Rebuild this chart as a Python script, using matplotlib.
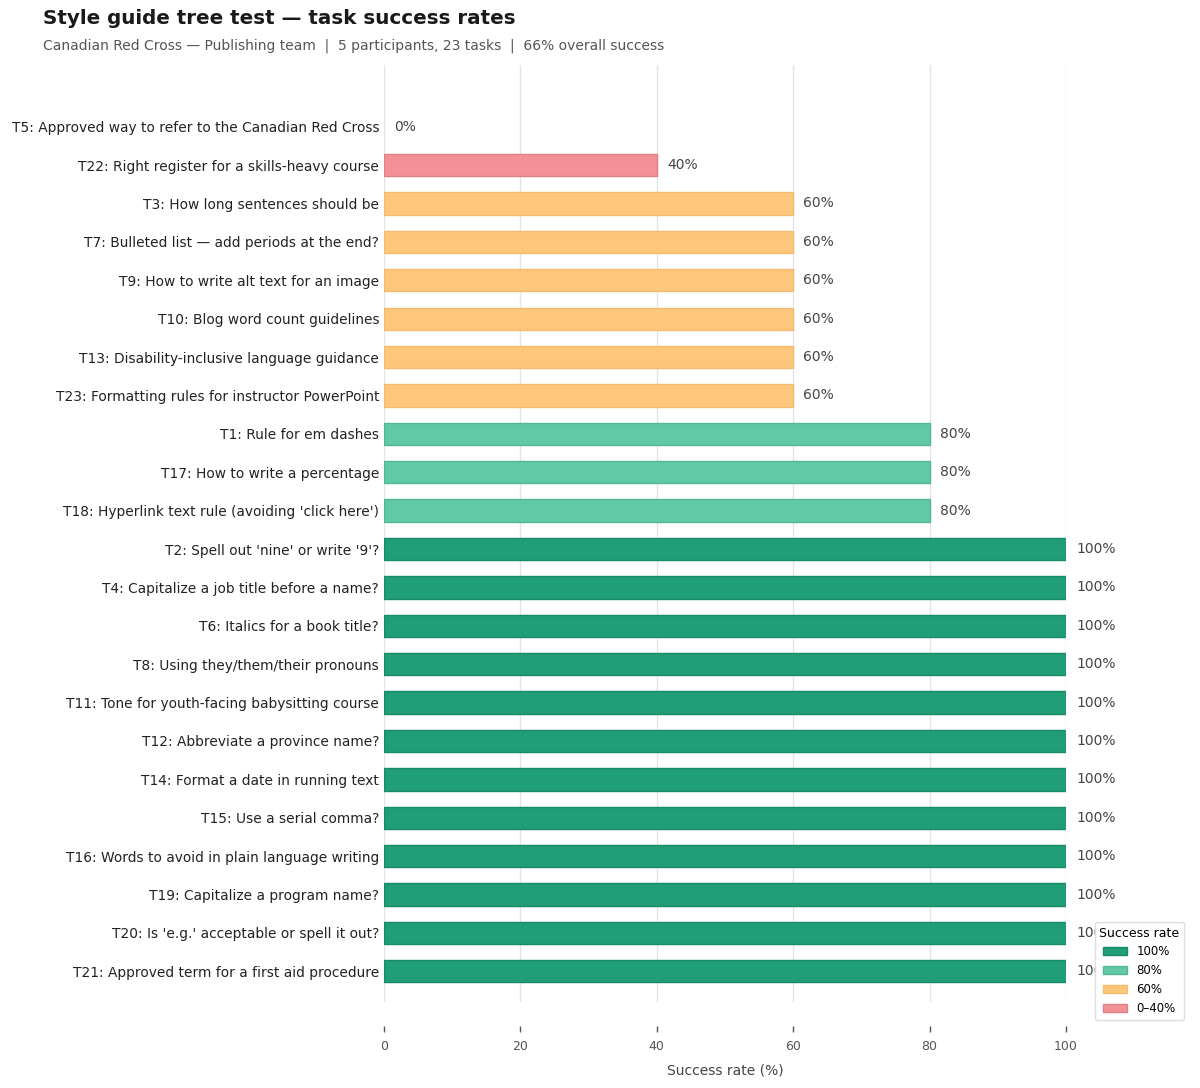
import matplotlib
matplotlib.use('Agg')
import matplotlib.pyplot as plt
from matplotlib.patches import Patch

# Task data (top to bottom as shown)
tasks = [
    "T5: Approved way to refer to the Canadian Red Cross",
    "T22: Right register for a skills-heavy course",
    "T3: How long sentences should be",
    "T7: Bulleted list \u2014 add periods at the end?",
    "T9: How to write alt text for an image",
    "T10: Blog word count guidelines",
    "T13: Disability-inclusive language guidance",
    "T23: Formatting rules for instructor PowerPoint",
    "T1: Rule for em dashes",
    "T17: How to write a percentage",
    "T18: Hyperlink text rule (avoiding 'click here')",
    "T2: Spell out 'nine' or write '9'?",
    "T4: Capitalize a job title before a name?",
    "T6: Italics for a book title?",
    "T8: Using they/them/their pronouns",
    "T11: Tone for youth-facing babysitting course",
    "T12: Abbreviate a province name?",
    "T14: Format a date in running text",
    "T15: Use a serial comma?",
    "T16: Words to avoid in plain language writing",
    "T19: Capitalize a program name?",
    "T20: Is 'e.g.' acceptable or spell it out?",
    "T21: Approved term for a first aid procedure",
]
success = [0, 40, 60, 60, 60, 60, 60, 60, 80, 80, 80,
           100, 100, 100, 100, 100, 100, 100, 100, 100, 100, 100, 100]

legend_labels = ["100%", "80%", "60%", "0\u201340%"]
fill_colors = {"100%": "#1f9e78", "80%": "#62c9a6", "60%": "#fdc77b", "0\u201340%": "#f29296"}
edge_colors = {"100%": "#178a67", "80%": "#52b792", "60%": "#f4bb6c", "0\u201340%": "#e07f84"}


def bucket(v):
    if v >= 100:
        return "100%"
    if v >= 80:
        return "80%"
    if v >= 60:
        return "60%"
    return "0\u201340%"


fig = plt.figure(figsize=(12, 10.88), dpi=100)
ax = fig.add_axes([0.32, 0.079, 0.5683, 0.861])

ypos = list(range(len(tasks)))
cols = [fill_colors[bucket(v)] for v in success]
edges = [edge_colors[bucket(v)] for v in success]
widths = [1 if v > 0 else 0 for v in success]
ax.barh(ypos, success, height=0.58, color=cols, edgecolor=edges, linewidth=widths, zorder=2)

for y, v in zip(ypos, success):
    ax.text(v + 1.5, y, f"{v}%", va='center', ha='left', fontsize=10, color='#444444', zorder=3)

ax.set_yticks(ypos)
ax.set_yticklabels(tasks, fontsize=9.9, color='#222222')
ax.set_ylim(22.8, -1.6)
ax.set_xlim(0, 100)
ax.set_xticks([0, 20, 40, 60, 80, 100])
ax.tick_params(axis='y', length=0, pad=3.5)
ax.tick_params(axis='x', length=4, width=1, colors='#555555', labelsize=9, pad=6)
ax.xaxis.grid(True, color='#e4e4ea', linewidth=1, zorder=0)
ax.set_axisbelow(True)
for s in ['top', 'right', 'left']:
    ax.spines[s].set_visible(False)
ax.spines['bottom'].set_position(('outward', 17))
ax.spines['bottom'].set_visible(False)
ax.set_xlabel("Success rate (%)", fontsize=10, color='#444444', labelpad=8)

handles = [Patch(facecolor=fill_colors[k], edgecolor=edge_colors[k], label=k) for k in legend_labels]
leg = ax.legend(handles=handles, title="Success rate", loc='lower left',
                bbox_to_anchor=(1.042, -0.019), fontsize=8.5, title_fontsize=9,
                frameon=True, framealpha=1.0, borderaxespad=0)
leg.get_frame().set_edgecolor('#dddddd')
leg.set_zorder(5)

fig.text(0.036, 0.992, "Style guide tree test \u2014 task success rates",
         fontsize=14.3, fontweight='bold', color='#1a1a1a', va='top', ha='left')
fig.text(0.036, 0.965, "Canadian Red Cross \u2014 Publishing team  |  5 participants, 23 tasks  |  66% overall success",
         fontsize=10, color='#555555', va='top', ha='left')

fig.savefig('out.png', dpi=100)
